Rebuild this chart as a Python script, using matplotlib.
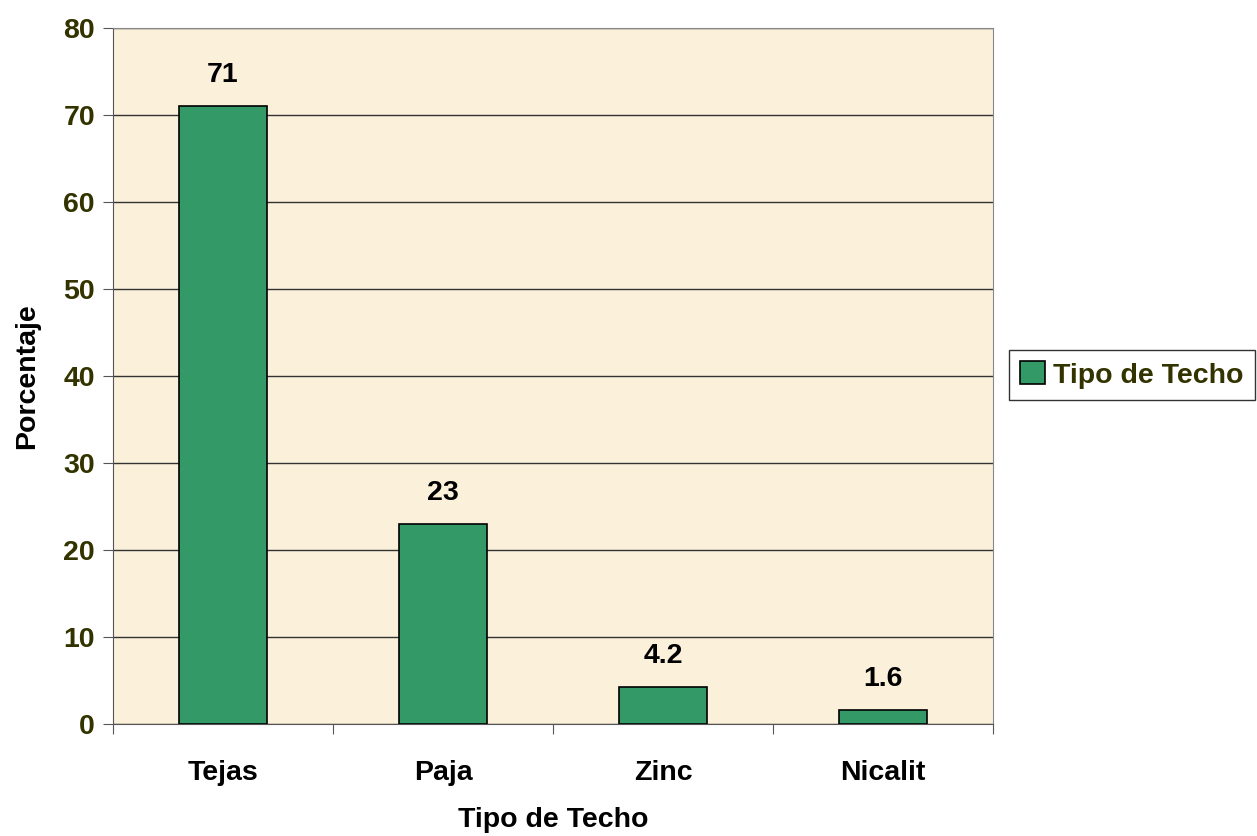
import matplotlib.pyplot as plt
import numpy as np

# datos
categorias = ["Tejas", "Paja", "Zinc", "Nicalit"]
porcentajes = [71, 23, 4.2, 1.6]
etiquetas = ["71", "23", "4.2", "1.6"]
yticks = [0, 10, 20, 30, 40, 50, 60, 70, 80]

plt.rcParams['font.family'] = ['Liberation Sans', 'DejaVu Sans']
plt.rcParams['font.weight'] = 'bold'
fs = 20.5

fig = plt.figure(figsize=(12.57, 8.36), dpi=100)
ax = fig.add_axes([113/1257, 1 - 724/836, 880/1257, 696/836])
ax.set_facecolor("#FBF0DA")

x = np.arange(len(categorias))
barras = ax.bar(x, porcentajes, width=0.4, color="#339966", edgecolor="black",
                linewidth=1.2, label="Tipo de Techo", zorder=3)

for xi, v, t in zip(x, porcentajes, etiquetas):
    ax.text(xi, v + 2.1, t, ha="center", va="bottom", fontsize=fs,
            fontweight="bold", color="black")

ax.set_xlim(-0.5, len(categorias) - 0.5)
ax.set_ylim(0, 80)
ax.set_yticks(yticks)
ax.set_yticklabels([str(t) for t in yticks], fontsize=fs, fontweight="bold", color="#333300")
ax.yaxis.grid(True, color="#333333", linewidth=1.0, zorder=1)

# ticks de categorias en los limites
ax.set_xticks(np.arange(-0.5, len(categorias), 1.0))
ax.set_xticklabels([])
ax.set_xticks(x, minor=True)
ax.set_xticklabels(categorias, minor=True, fontsize=fs, fontweight="bold")
ax.tick_params(axis="x", which="minor", length=0, pad=26)
ax.tick_params(axis="x", which="major", length=7, color="#555555")
ax.tick_params(axis="y", length=7, color="#555555", pad=6)

for s in ["top", "right"]:
    ax.spines[s].set_color("#888888")
ax.spines["left"].set_color("#555555")
ax.spines["bottom"].set_color("#555555")

ax.set_xlabel("Tipo de Techo", fontsize=fs, fontweight="bold", labelpad=15)
ax.set_ylabel("Porcentaje", fontsize=fs, fontweight="bold", labelpad=17)

leg = fig.legend(handles=[barras], labels=["Tipo de Techo"], loc="center left",
                 bbox_to_anchor=(1009/1257, 1 - 375/836), frameon=True, fancybox=False,
                 fontsize=fs, handlelength=0.85, handleheight=0.85, handletextpad=0.3,
                 borderpad=0.4, borderaxespad=0)
leg.get_frame().set_edgecolor("black")
leg.get_frame().set_linewidth(1.0)
for t in leg.get_texts():
    t.set_color("#333300")

fig.savefig("out.png", dpi=100)
